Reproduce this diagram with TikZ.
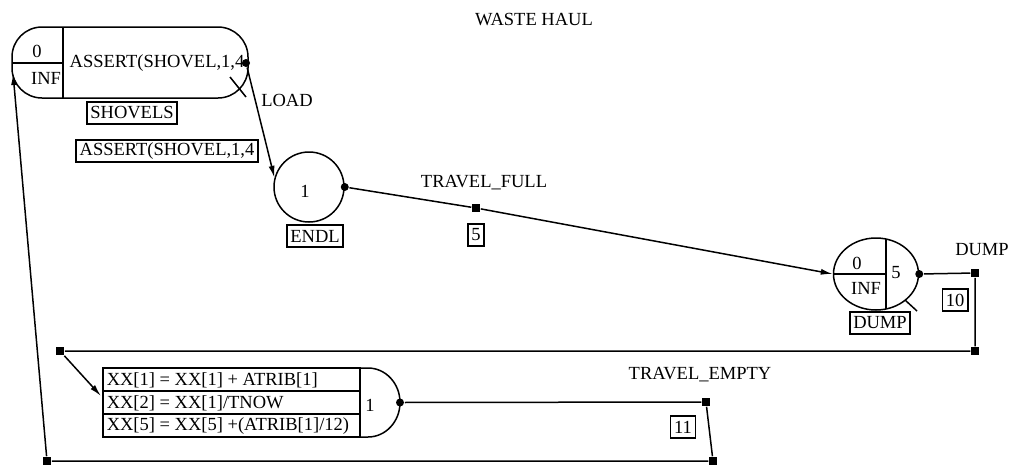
\documentclass[tikz,border=0pt]{standalone}
\usepackage{fontspec}
\setmainfont{Liberation Serif}
\usetikzlibrary{arrows.meta,positioning,shapes.geometric}

\tikzset{
  slam/.style={line width=1.5pt},
  tag/.style={draw, line width=1.5pt, inner xsep=3.5pt, inner ysep=2pt, minimum height=22pt},
  dot/.style={circle, fill, inner sep=0pt, minimum size=8pt},
  knot/.style={rectangle, fill, inner sep=0pt, minimum size=8pt},
  flow/.style={line width=1.5pt, -{Latex[length=12pt,width=6pt]}},
  row/.style={anchor=west, inner sep=1pt},
}

\begin{document}
\begin{tikzpicture}[x=1pt, y=-1pt, font=\fontsize{18.5}{20}\selectfont, slam]
\useasboundingbox (0,0) rectangle (1018,467);

% ---- title ----
\node (title) at (534,20) {WASTE HAUL};

% ---- await node: SHOVELS ----
\draw[rounded corners=30] (12,27) rectangle (248,98);
\draw (63,27) -- (63,98);
\draw (12,63) -- (63,63);
\node (awq) at (37,51) {0};
\node (awcap) at (46,78) {INF};
\node (awcond) at (157,63) {ASSERT(SHOVEL,1,4};
\node[dot] (awout) at (246,63) {};
\draw (230,77) -- (246,97);
\node[tag] (shovels) at (132,113) {SHOVELS};
\node[tag] (assert) at (167,151) {ASSERT(SHOVEL,1,4};
\node (load) at (287,100) {LOAD};

% ---- ENDL ----
\node[draw, circle, minimum size=70pt, inner sep=0pt] (endl) at (309,187) {};
\node (endlq) at (305,191) {1};
\node[dot] (endlout) at (endl.east) {};
\node[tag] (endltag) at (315,236) {ENDL};
\draw[flow] (awout) -- (endl.165);

% ---- TRAVEL_FULL ----
\node[knot] (fullpt) at (476,208) {};
\node (fulllbl) at (484,183) {TRAVEL\_FULL};
\node[tag] (fulltime) at (476,235) {5};

% ---- DUMP ----
\node[draw, ellipse, minimum width=85pt, minimum height=72pt, inner sep=0pt] (dump) at (876,274) {};
\draw (886,239) -- (886,309);
\draw (dump.west) -- (886,274);
\node (dumpq) at (857,263) {0};
\node (dumpcap) at (866,288) {INF};
\node (dumpsrv) at (896,273) {5};
\node[dot] (dumpout) at (dump.east) {};
\draw (905,300) -- (917,311);
\node[tag] (dumptag) at (880,323) {DUMP};
\node (dumplbl) at (982,250) {DUMP};
\node[knot] (dumppt) at (975,273) {};
\node[tag] (dumptime) at (955,300) {10};
\node[knot] (backpt) at (975,351) {};
\node[knot] (loopin) at (60,351) {};

\draw (endlout) -- (fullpt);
\draw[flow] (fullpt) -- (dump.west);
\draw (dumpout) -- (dumppt) -- (backpt) -- (loopin);

% ---- assign node ----
\draw (103,368) rectangle (360,437);
\draw (103,391) -- (360,391);
\draw (103,414) -- (360,414);
\draw (360,368) -- (368,368) arc[start angle=-90, end angle=90, x radius=32, y radius=34.5] -- (360,437);
\node[row] (asg1) at (105,380) {XX[1] = XX[1] + ATRIB[1]};
\node[row] (asg2) at (105,403) {XX[2] = XX[1]/TNOW};
\node[row] (asg3) at (105,426) {XX[5] = XX[5] +(ATRIB[1]/12)};
\node (asgq) at (370,405) {1};
\node[dot] (asgout) at (400,402.5) {};
\coordinate (asgin) at (101,396);
\draw[flow] (loopin) -- (asgin);

% ---- TRAVEL_EMPTY and return ----
\node[knot] (emptypt) at (706,402) {};
\node (emptylbl) at (700,375) {TRAVEL\_EMPTY};
\node[tag] (emptytime) at (683,427) {11};
\node[knot] (retpt) at (713,461) {};
\node[knot] (retcorner) at (47,461) {};
\coordinate (awin) at (13,73);
\draw (asgout) -- (emptypt) -- (retpt) -- (retcorner);
\draw[flow] (retcorner) -- (awin);

\end{tikzpicture}
\end{document}
